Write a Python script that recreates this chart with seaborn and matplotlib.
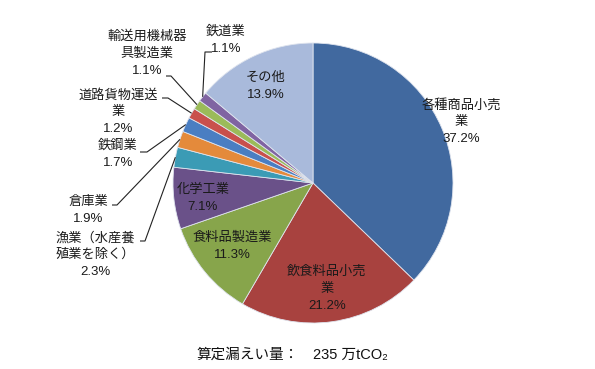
import matplotlib

matplotlib.use("Agg")
import matplotlib.pyplot as plt
import numpy as np
import seaborn as sns

sns.set_theme(style="white")
plt.rcParams["font.family"] = ["Liberation Sans", "Noto Sans CJK JP", "DejaVu Sans"]

# slices, clockwise from 12 o'clock
categories = [
    "各種商品小売業", "飲食料品小売業", "食料品製造業", "化学工業",
    "漁業（水産養殖業を除く）", "倉庫業", "鉄鋼業", "道路貨物運送業",
    "輸送用機械器具製造業", "鉄道業", "その他",
]
shares = [37.2, 21.2, 11.3, 7.1, 2.3, 1.9, 1.7, 1.2, 1.1, 1.1, 13.9]
colors = [
    "#41699f", "#a8423f", "#87a54b", "#6a5189", "#3b9bb5", "#e48a3b",
    "#4a7ec2", "#c9504c", "#9bbb59", "#8064a2", "#a9badb",
]
# label text as printed (line breaks as in the chart)
label_text = [
    "各種商品小売\n業", "飲食料品小売\n業", "食料品製造業", "化学工業",
    "漁業（水産養\n殖業を除く）", "倉庫業", "鉄鋼業", "道路貨物運送\n業",
    "輸送用機械器\n具製造業", "鉄道業", "その他",
]
total_label = "算定漏えい量："
total_value = "235 万tCO₂"

W, H = 595, 369
fig = plt.figure(figsize=(W / 100, H / 100), dpi=100)
ax = fig.add_axes([0, 0, 1, 1])

cx, cy, r = 313, H - 183, 140
wedges, _ = ax.pie(shares, colors=colors, startangle=90, counterclock=False,
                   center=(cx, cy), radius=r, frame=True,
                   wedgeprops={"linewidth": 0.6, "edgecolor": "#dfe4ee"})
ax.set_xlim(0, W)
ax.set_ylim(0, H)
ax.axis("off")

# label positions in pixels from top-left: (x, y of first line)
inside = {
    0: (461, 105), 1: (327, 272), 2: (232, 238), 3: (203, 190), 10: (266, 78),
}
# outside labels: text centre, leader tick (x_start, x_end, y)
outside = {
    9: ((226, 32), (212, 205, 52)),
    8: ((147, 37), (166, 171, 76)),
    7: ((118, 95), (162, 168, 98)),
    6: ((118, 146), (140, 147, 152)),
    5: ((88, 202), (112, 117, 205)),
    4: ((95, 238), (140, 145, 241)),
}
line_gap = 16.8


def put_label(i, x, y):
    lines = label_text[i].split("\n") + [f"{shares[i]:.1f}%"]
    for k, s in enumerate(lines):
        ax.text(x, H - (y + k * line_gap), s, ha="center", va="center",
                fontsize=9.5, color="#1a1a1a")


for i, (x, y) in inside.items():
    put_label(i, x, y)

for i, ((x, y), (x0, x1, ty)) in outside.items():
    put_label(i, x, y)
    w = wedges[i]
    mid = np.deg2rad((w.theta1 + w.theta2) / 2)
    ex, ey = cx + r * np.cos(mid), cy + r * np.sin(mid)
    ax.plot([x0, x1, ex], [H - ty, H - ty, ey], color="#222222", lw=0.8,
            solid_capstyle="butt")

ax.text(196, H - 355, total_label, ha="left", va="center", fontsize=10.5,
        color="#111111")
ax.text(313, H - 355, total_value, ha="left", va="center", fontsize=10.5,
        color="#111111")

fig.savefig("out.png", dpi=100, facecolor="white")
